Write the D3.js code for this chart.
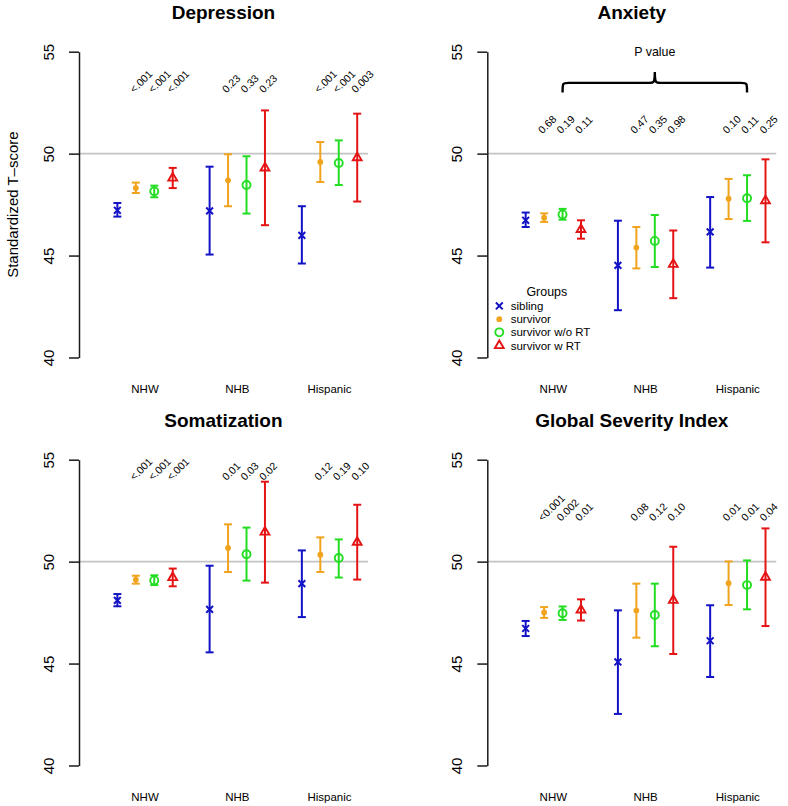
<!DOCTYPE html>
<html><head><meta charset="utf-8">
<script src="https://cdn.jsdelivr.net/npm/d3@7/dist/d3.min.js"></script>
<style>
body{margin:0;background:#fff}
svg{display:block}
text{font-family:"Liberation Sans",Arial,Helvetica,sans-serif;fill:#000}
</style>
</head><body>
<svg id="chart" width="788" height="806"></svg>
<script>
// ---------------- data ----------------
const groups = ["NHW", "NHB", "Hispanic"];
const seriesNames = ["sibling", "survivor", "survivor w/o RT", "survivor w RT"];
const panelTitles = ["Depression", "Anxiety", "Somatization", "Global Severity Index"];
const yTicks = [40, 45, 50, 55];
const yTitle = "Standardized T\u2013score";
const legendTitle = "Groups";
const braceLabel = "P value";

// order: NHW(sib, surv, w/o RT, w RT), NHB(...), Hispanic(...)
const depMean = [47.22, 48.31, 48.15, 48.80, 47.19, 48.69, 48.46, 49.30, 45.99, 49.59, 49.54, 49.80];
const depLow  = [46.91, 48.07, 47.86, 48.31, 45.05, 47.42, 47.06, 46.49, 44.61, 48.61, 48.46, 47.65];
const depHigh = [47.58, 48.58, 48.43, 49.30, 49.36, 49.97, 49.87, 52.12, 47.42, 50.57, 50.65, 51.96];
const depP = ["<.001", "<.001", "<.001", "0.23", "0.33", "0.23", "<.001", "<.001", "0.003"];

const anxMean = [46.73, 46.86, 47.02, 46.28, 44.52, 45.39, 45.72, 44.57, 46.16, 47.79, 47.81, 47.69];
const anxLow  = [46.40, 46.65, 46.76, 45.83, 42.32, 44.37, 44.44, 42.91, 44.41, 46.79, 46.70, 45.65];
const anxHigh = [47.11, 47.07, 47.29, 46.73, 46.71, 46.40, 46.99, 46.23, 47.87, 48.76, 48.94, 49.72];
const anxP = ["0.68", "0.19", "0.11", "0.47", "0.35", "0.98", "0.10", "0.11", "0.25"];

const somMean = [48.10, 49.12, 49.08, 49.22, 47.66, 50.67, 50.36, 51.45, 48.92, 50.34, 50.18, 50.95];
const somLow  = [47.81, 48.92, 48.85, 48.79, 45.55, 49.49, 49.07, 48.97, 47.28, 49.49, 49.22, 49.12];
const somHigh = [48.41, 49.31, 49.33, 49.66, 49.80, 51.83, 51.67, 53.92, 50.55, 51.19, 51.09, 52.79];
const somP = ["<.001", "<.001", "<.001", "0.01", "0.03", "0.02", "0.12", "0.19", "0.10"];

const gsiMean = [46.72, 47.51, 47.47, 47.63, 45.08, 47.60, 47.38, 48.10, 46.12, 48.94, 48.85, 49.24];
const gsiLow  = [46.35, 47.24, 47.14, 47.11, 42.53, 46.27, 45.85, 45.47, 44.34, 47.87, 47.66, 46.84];
const gsiHigh = [47.09, 47.77, 47.80, 48.15, 47.61, 48.92, 48.92, 50.73, 47.86, 50.01, 50.06, 51.63];
const gsiP = ["<0.001", "0.002", "0.01", "0.08", "0.12", "0.10", "0.01", "0.01", "0.04"];

const pLabelLevel = [53, 51, 54, 52];   // y value where p-value labels sit

// ---------------- styles / layout ----------------
const colors = ["#1212C6", "#F0A31C", "#22DD22", "#E51414"];
const panelLayout = [
  {ax: 79,    top: 51.7},
  {ax: 487.3, top: 51.7},
  {ax: 79,    top: 459.7},
  {ax: 487.3, top: 459.7}
];
const plotW = 288.9, plotH = 305.8;
const font = "'Liberation Sans', Arial, Helvetica, sans-serif";

const panelData = [
  {mean: depMean, low: depLow, high: depHigh, p: depP},
  {mean: anxMean, low: anxLow, high: anxHigh, p: anxP},
  {mean: somMean, low: somLow, high: somHigh, p: somP},
  {mean: gsiMean, low: gsiLow, high: gsiHigh, p: gsiP}
];

const svg = d3.select("#chart");
svg.append("rect").attr("width", 788).attr("height", 806).attr("fill", "#fff");

function symbol(g, s, col) {
  if (s === 0) {
    g.append("path").attr("d", "M-3.4,-3.4L3.4,3.4M-3.4,3.4L3.4,-3.4")
      .attr("stroke", col).attr("stroke-width", 2).attr("fill", "none");
  } else if (s === 1) {
    g.append("circle").attr("r", 2.9).attr("fill", col);
  } else if (s === 2) {
    g.append("circle").attr("r", 4).attr("fill", "none").attr("stroke", col).attr("stroke-width", 1.9);
  } else {
    g.append("path").attr("d", "M0,-5.1L4.4,2.55L-4.4,2.55Z")
      .attr("fill", "none").attr("stroke", col).attr("stroke-width", 1.9).attr("stroke-linejoin", "miter");
  }
}

panelData.forEach((pd, i) => {
  const L = panelLayout[i];
  const x = d3.scaleLinear().domain([-1.08, 14.58]).range([L.ax, L.ax + plotW]);
  const y = d3.scaleLinear().domain([40, 55]).range([L.top + plotH, L.top]);
  const g = svg.append("g");

  // reference line at 50
  g.append("line").attr("x1", x.range()[0]).attr("x2", x.range()[1])
    .attr("y1", y(50)).attr("y2", y(50)).attr("stroke", "#C4C4C4").attr("stroke-width", 1.6);

  // y axis
  const axis = d3.axisLeft(y).tickValues(yTicks).tickSize(10).tickSizeOuter(0).tickPadding(0);
  const ag = g.append("g").attr("transform", `translate(${L.ax},0)`).call(axis);
  ag.select(".domain").attr("stroke", "#1a1a1a").attr("stroke-width", 1.5);
  ag.selectAll(".tick line").attr("stroke", "#1a1a1a").attr("stroke-width", 1.5);
  ag.selectAll(".tick text")
    .attr("x", null).attr("dy", null)
    .attr("text-anchor", "middle")
    .attr("transform", "translate(-25,0) rotate(-90)")
    .attr("font-size", 15).attr("font-family", font).attr("fill", "#000");

  // title
  g.append("text").attr("x", (x.range()[0] + x.range()[1]) / 2).attr("y", L.top - 33)
    .attr("text-anchor", "middle").attr("font-weight", "bold").attr("font-size", 19)
    .text(panelTitles[i]);

  // category labels
  groups.forEach((grp, gi) => {
    g.append("text").attr("x", x(gi * 5 + 2.5)).attr("y", y(40) + 35.5)
      .attr("text-anchor", "middle").attr("font-size", 11.5).text(grp);
  });

  // error bars and points
  pd.mean.forEach((m, k) => {
    const gi = Math.floor(k / 4), s = k % 4;
    const px = x(gi * 5 + s + 1);
    const col = colors[s];
    const eg = g.append("g");
    eg.append("line").attr("x1", px).attr("x2", px).attr("y1", y(pd.low[k])).attr("y2", y(pd.high[k]))
      .attr("stroke", col).attr("stroke-width", 2);
    [pd.low[k], pd.high[k]].forEach(v => {
      eg.append("line").attr("x1", px - 4).attr("x2", px + 4).attr("y1", y(v)).attr("y2", y(v))
        .attr("stroke", col).attr("stroke-width", 2);
    });
    const sg = g.append("g").attr("transform", `translate(${px},${y(m)})`);
    symbol(sg, s, col);
  });

  // p-value labels
  pd.p.forEach((lab, k) => {
    const gi = Math.floor(k / 3), s = k % 3 + 1;
    const px = x(gi * 5 + s + 1);
    g.append("text").attr("transform", `translate(${px - 1.5},${y(pLabelLevel[i]) + 1})`+" rotate(-45)")
      .attr("text-anchor", "start").attr("font-size", 10.5).attr("fill", "#111").text(lab);
  });

  if (i === 0) {
    g.append("text").attr("transform", `translate(18,${(y(40) + y(55)) / 2}) rotate(-90)`)
      .attr("text-anchor", "middle").attr("font-size", 15).text(yTitle);
  }

  if (i === 1) {
    // brace with "P value"
    const xl = x(3), xr = x(13), xc = x(8);
    const yb = y(53), yh = y(53.47), yp = y(54);
    const path = `M${xl},${yb} C${xl},${yh} ${xl},${yh} ${xl + 6},${yh} L${xc - 6},${yh} C${xc - 1},${yh} ${xc},${yh} ${xc},${yp}` +
      ` C${xc},${yh} ${xc + 1},${yh} ${xc + 6},${yh} L${xr - 6},${yh} C${xr},${yh} ${xr},${yh} ${xr},${yb}`;
    g.append("path").attr("d", path).attr("fill", "none").attr("stroke", "#000").attr("stroke-width", 2.4);
    g.append("text").attr("x", xc).attr("y", y(55) + 4.5).attr("text-anchor", "middle")
      .attr("font-size", 12.4).text(braceLabel);

    // legend
    const lg = g.append("g").attr("transform", `translate(${L.ax},${y(50)})`);
    lg.append("text").attr("x", 59.5).attr("y", 142.5).attr("text-anchor", "middle")
      .attr("font-size", 12.4).text(legendTitle);
    seriesNames.forEach((nm, s) => {
      const ry = 152.3 + s * 13.2;
      const sg = lg.append("g").attr("transform", `translate(12,${ry})`);
      symbol(sg, s, colors[s]);
      lg.append("text").attr("x", 23.4).attr("y", ry + 4).attr("font-size", 11.5).text(nm);
    });
  }
});
</script>
</body></html>
